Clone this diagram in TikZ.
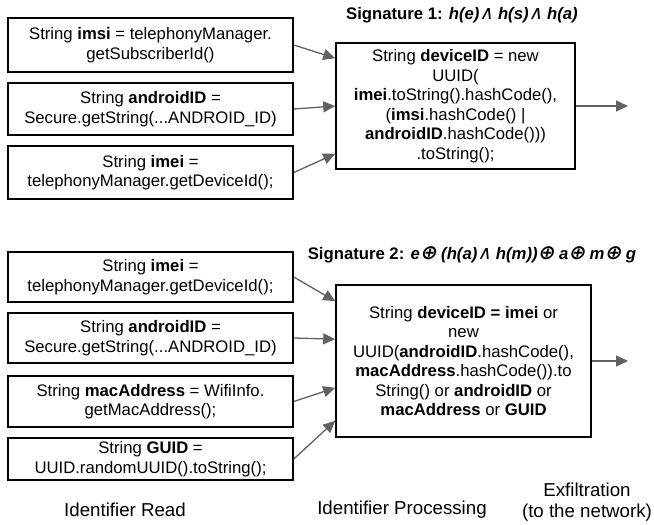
\documentclass[tikz,border=0pt]{standalone}
\usepackage{fontspec}
\setmainfont{Liberation Sans}
\newfontfamily\opsfont[FakeSlant=0.22]{DejaVu Sans}
\usetikzlibrary{arrows.meta}
\newcommand{\logand}{{\opsfont\mdseries\fontsize{19}{19}\selectfont ∧}}
\newcommand{\logxor}{{\opsfont\bfseries\fontsize{20}{19.5}\selectfont ⊕}}

\begin{document}
\begin{tikzpicture}[x=1pt, y=-1pt,
  txt/.style={font=\fontsize{16.7}{19.5}\selectfont},
  idbox/.style={txt, draw, line width=1.6pt, minimum width=285pt, align=center, inner sep=0pt},
  procbox/.style={txt, draw, line width=1.6pt, align=center, inner sep=0pt},
  flow/.style={draw=black!62, line width=1.3pt, -{Triangle[length=12pt, width=11pt]}},
  sig/.style={font=\fontsize{16.7}{19.5}\selectfont\bfseries},
  stage/.style={font=\fontsize{18.7}{21}\selectfont, align=center}]
\useasboundingbox (0,0) rectangle (654,525);
% signature 1: identifiers read
\node[idbox, minimum height=54pt] (imsi) at (150.5,45)
  {String \textbf{imsi} = telephonyManager.\\getSubscriberId()};
\node[idbox, minimum height=52pt] (androidA) at (150.5,109)
  {String \textbf{androidID} =\\Secure.getString(...ANDROID\_ID)};
\node[idbox, minimum height=53pt] (imeiA) at (150.5,172.5)
  {String \textbf{imei} =\\telephonyManager.getDeviceId();};
% signature 1: processing
\node[sig] (sigA) at (462,15) {Signature 1: \textit{h(e)\logand{} h(s)\logand{} h(a)}};
\node[procbox, minimum width=239pt, minimum height=126pt] (devA) at (455.5,106)
  {String \textbf{deviceID} = new\\UUID(\\\textbf{imei}.toString().hashCode(),\\(\textbf{imsi}.hashCode() |\\\textbf{androidID}.hashCode()))\\.toString();};
\coordinate (exfA) at (628,106);
\draw[flow] (imsi.east) -- ([yshift=-16pt]devA.north west);
\draw[flow] (androidA.east) -- (devA.west);
\draw[flow] (imeiA.east) -- ([yshift=16pt]devA.south west);
\draw[flow] (devA.east) -- (exfA);
% signature 2: identifiers read
\node[idbox, minimum height=50pt] (imeiB) at (150.5,277)
  {String \textbf{imei} =\\telephonyManager.getDeviceId();};
\node[idbox, minimum height=50pt] (androidB) at (150.5,338)
  {String \textbf{androidID} =\\Secure.getString(...ANDROID\_ID)};
\node[idbox, minimum height=51pt] (mac) at (150.5,401.5)
  {String \textbf{macAddress} = WifiInfo.\\getMacAddress();};
\node[idbox, minimum height=42pt] (guid) at (150.5,459)
  {String \textbf{GUID} =\\UUID.randomUUID().toString();};
% signature 2: processing
\node[sig] (sigB) at (472,255)
  {Signature 2: \textit{e\logxor{} (h(a)\logand{} h(m))\logxor{} a\logxor{} m\logxor{} g}};
\node[procbox, minimum width=255pt, minimum height=152pt] (devB) at (463.5,361)
  {String \textbf{deviceID = imei} or\\new\\UUID(\textbf{androidID}.hashCode(),\\\textbf{macAddress}.hashCode()).to\\String() or \textbf{androidID} or\\\textbf{macAddress} or \textbf{GUID}};
\coordinate (exfB) at (628,361);
\draw[flow] (imeiB.east) -- ([yshift=-17pt]devB.north west);
\draw[flow] (androidB.east) -- ([yshift=-55pt]devB.north west);
\draw[flow] (mac.east) -- ([yshift=50pt]devB.south west);
\draw[flow] (guid.east) -- ([yshift=17pt]devB.south west);
\draw[flow] (devB.east) -- (exfB);
% stages
\node[stage] (read) at (125,510) {Identifier Read};
\node[stage] (proc) at (402,510) {Identifier Processing};
\node[stage] (exf) at (587,502) {Exfiltration\\(to the network)};
\end{tikzpicture}
\end{document}
